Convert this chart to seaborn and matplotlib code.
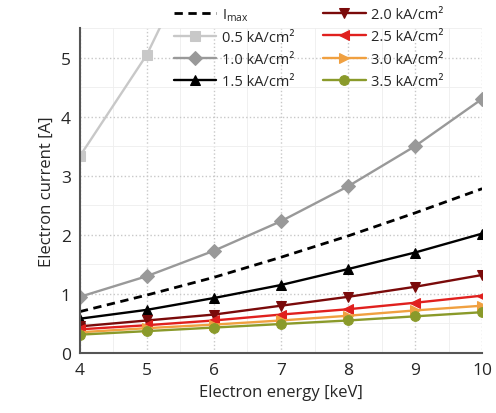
import numpy as np
import pandas as pd
import seaborn as sns
from matplotlib import pyplot as plt
from matplotlib.ticker import MultipleLocator

energy = [4, 5, 6, 7, 8, 9, 10]

i_max = [0.70, 0.98, 1.28, 1.62, 1.98, 2.37, 2.78]
j05 = [3.33, 5.05, 7.40]
j10 = [0.95, 1.30, 1.73, 2.23, 2.82, 3.50, 4.30]
j15 = [0.58, 0.73, 0.93, 1.15, 1.42, 1.70, 2.02]
j20 = [0.45, 0.55, 0.65, 0.80, 0.95, 1.12, 1.32]
j25 = [0.40, 0.47, 0.55, 0.65, 0.74, 0.85, 0.97]
j30 = [0.35, 0.42, 0.48, 0.55, 0.63, 0.72, 0.80]
j35 = [0.31, 0.37, 0.43, 0.49, 0.55, 0.62, 0.69]

labels = ['0.5 kA/cm²', '1.0 kA/cm²', '1.5 kA/cm²', '2.0 kA/cm²',
          '2.5 kA/cm²', '3.0 kA/cm²', '3.5 kA/cm²']
series = [j05, j10, j15, j20, j25, j30, j35]
colors = ['#c8c8c8', '#999999', '#000000', '#7a0a0a', '#e0201e', '#f0a040', '#8a9a2a']
markers = ['s', 'D', '^', 'v', '<', '>', 'o']

sns.set_style('white')
plt.rcParams['font.family'] = ['Open Sans', 'DejaVu Sans']

fig = plt.figure(figsize=(4.96, 4.14), dpi=100)
ax = fig.add_axes([0.161, 0.145, 0.811, 0.785])

sns.lineplot(x=energy, y=i_max, ax=ax, color='black', lw=2,
             linestyle=(0, (3, 2)), label=r'$\mathregular{I_{max}}$')
for lab, vals, col, mk in zip(labels, series, colors, markers):
    sns.lineplot(x=energy[:len(vals)], y=vals, ax=ax, color=col, lw=1.7,
                 marker=mk, markersize=7, markeredgecolor=col, label=lab)

ax.set_xlim(4, 10)
ax.set_ylim(0, 5.5)
ax.xaxis.set_major_locator(MultipleLocator(1))
ax.xaxis.set_minor_locator(MultipleLocator(0.5))
ax.yaxis.set_major_locator(MultipleLocator(1))
ax.yaxis.set_minor_locator(MultipleLocator(0.5))
ax.grid(which='major', color='#c8c8c8', linestyle=':', lw=1)
ax.grid(which='minor', color='#eeeeee', linestyle='-', lw=0.6)
ax.tick_params(which='both', direction='inout', color='#555555', labelsize=12.5)
ax.tick_params(which='major', length=6)
ax.tick_params(which='minor', length=4)
for s in ['top', 'right']:
    ax.spines[s].set_visible(False)
for s in ['left', 'bottom']:
    ax.spines[s].set_color('#555555')
    ax.spines[s].set_linewidth(1.5)

ax.set_xlabel('Electron energy [keV]', fontsize=12)
ax.set_ylabel('Electron current [A]', fontsize=12)

leg = ax.legend(ncol=2, loc='upper left', bbox_to_anchor=(0.22, 1.085),
                borderaxespad=0, frameon=False, fontsize=10.5, handlelength=2.9,
                columnspacing=2.0, labelspacing=0.5, handletextpad=0.35)

fig.savefig('out.png', dpi=100)
